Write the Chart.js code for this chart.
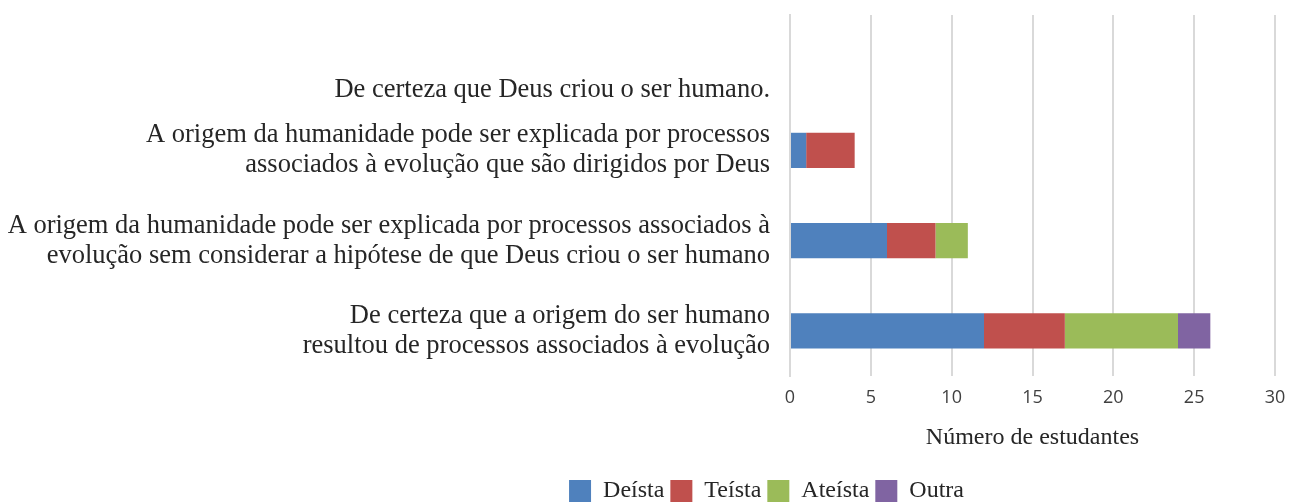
<!DOCTYPE html>
<html><head><meta charset="utf-8">
<script src="https://cdn.jsdelivr.net/npm/chart.js@4"></script>
<style>html,body{margin:0;padding:0;background:#fff}#wrap{width:1294px;height:502px}</style>
</head><body><div id="wrap"><canvas id="c" width="1294" height="502"></canvas></div>
<script>
const categories = [
  ["", "", "De certeza que Deus criou o ser humano."],
  ["A origem da humanidade pode ser explicada por processos", "associados à evolução que são dirigidos por Deus"],
  ["A origem da humanidade pode ser explicada por processos associados à", "evolução sem considerar a hipótese de que Deus criou o ser humano"],
  ["De certeza que a origem do ser humano", "resultou de processos associados à evolução"]
];
const deista = [0, 1, 6, 12];
const teista = [0, 3, 3, 5];
const ateista = [0, 0, 2, 7];
const outra = [0, 0, 0, 2];
const xTicks = [0, 5, 10, 15, 20, 25, 30];
const axisTitle = "Número de estudantes";

const serif = "'Liberation Serif', 'DejaVu Serif', serif";
const sans = "'Open Sans', 'Noto Sans', sans-serif";

// shift the legend to sit under the plot like the reference
const legendShift = {
  id: 'legendShift',
  afterLayout(chart) {
    const lg = chart.legend;
    if (!lg) return;
    const dx = 129, dy = 11;
    lg.left += dx; lg.right += dx; lg.top += dy; lg.bottom += dy;
  }
};

new Chart(document.getElementById('c'), {
  type: 'bar',
  data: {
    labels: categories,
    datasets: [
      {label: 'Deísta', data: deista, backgroundColor: '#4f81bd'},
      {label: 'Teísta', data: teista, backgroundColor: '#c0504d'},
      {label: 'Ateísta', data: ateista, backgroundColor: '#9bbb59'},
      {label: 'Outra', data: outra, backgroundColor: '#8064a2'}
    ]
  },
  plugins: [legendShift],
  options: {
    indexAxis: 'y',
    responsive: false,
    animation: false,
    maintainAspectRatio: false,
    layout: {padding: {top: 15, right: 19, left: 0, bottom: 0}},
    datasets: {bar: {categoryPercentage: 1, barPercentage: 0.39}},
    scales: {
      x: {
        stacked: true, min: 0, max: 30,
        afterBuildTicks: (s) => { s.ticks = xTicks.map(v => ({value: v})); },
        grid: {color: '#d9d9d9', lineWidth: 2, drawTicks: true, tickLength: 0},
        border: {display: false},
        ticks: {color: '#404040', font: {family: sans, size: 18}, padding: 11},
        title: {display: true, text: axisTitle, color: '#262626', font: {family: serif, size: 24}, padding: {top: 8, bottom: 10}},
        afterFit: (s) => { s.height = 86; s.paddingLeft = 0; s.paddingRight = 0; }
      },
      y: {
        stacked: true,
        grid: {display: false, drawTicks: false, tickLength: 0},
        border: {display: true, color: '#d9d9d9', width: 2},
        ticks: {autoSkip: false, color: '#262626', font: {family: serif, size: 26.5, lineHeight: 1.13}, padding: 20},
        afterFit: (s) => { s.width = 790; s.paddingTop = 0; s.paddingBottom = 0; }
      }
    },
    plugins: {
      legend: {
        position: 'bottom',
        labels: {color: '#262626', font: {family: serif, size: 24}, boxWidth: 22, boxHeight: 22, padding: 6}
      },
      tooltip: {enabled: false}
    }
  }
});
</script></body></html>
